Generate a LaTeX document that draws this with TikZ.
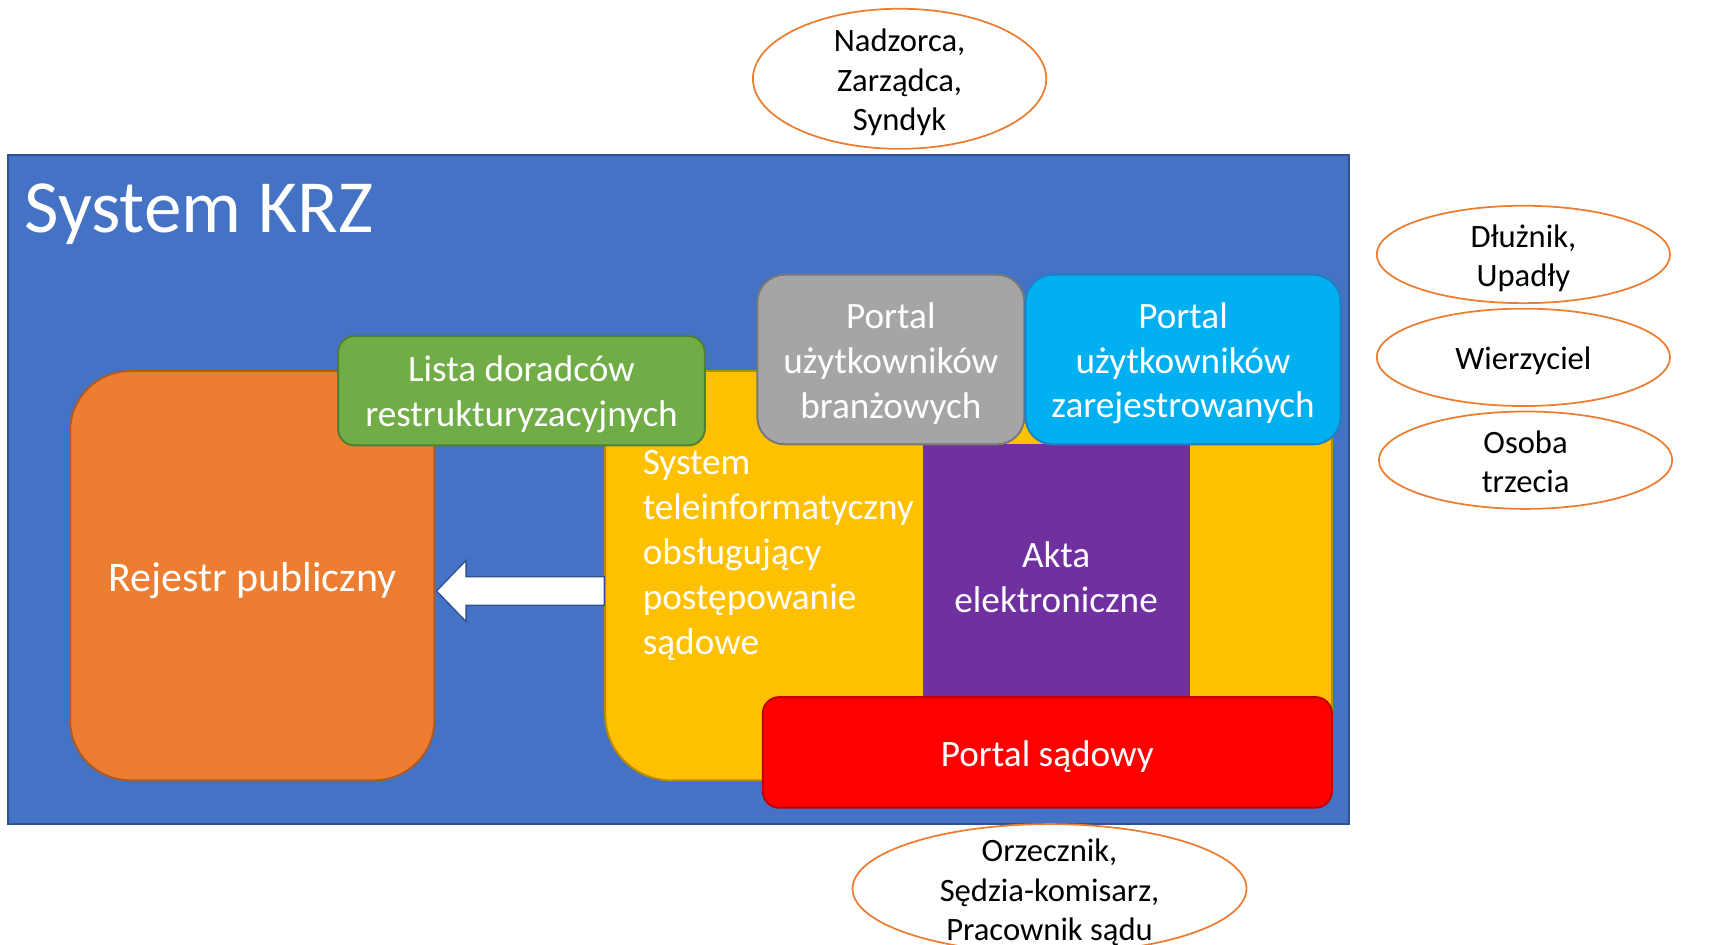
\documentclass[tikz,border=0pt]{standalone}
\usepackage{fontspec}
\setmainfont{Carlito}
\usetikzlibrary{shapes.geometric,calc}
\definecolor{kblue}{HTML}{4472C4}
\definecolor{kblueb}{HTML}{2F528F}
\definecolor{korange}{HTML}{ED7D31}
\definecolor{korangeb}{HTML}{AE5A21}
\definecolor{kgreen}{HTML}{70AD47}
\definecolor{kgreenb}{HTML}{507E32}
\definecolor{kyellow}{HTML}{FFC000}
\definecolor{kyellowb}{HTML}{BC8C00}
\definecolor{kgray}{HTML}{A5A5A5}
\definecolor{kgrayb}{HTML}{787878}
\definecolor{kcyan}{HTML}{00B0F0}
\definecolor{kcyanb}{HTML}{1F7FC0}
\definecolor{kpurple}{HTML}{7030A0}
\definecolor{kred}{HTML}{FF0000}
\definecolor{kredb}{HTML}{C00000}
\begin{document}
\begin{tikzpicture}[x=0.5pt,y=-0.5pt,
  box/.style={draw, line width=0.9pt, inner sep=0pt},
  boxtext/.style={inner sep=0pt, text=white, align=center, yshift=-1.75pt,
    font=\fontsize{17}{20.5}\selectfont},
  actor/.style={ellipse, draw=korange, line width=0.8pt, inner sep=0pt},
  actortext/.style={inner sep=0pt, align=center, yshift=-1.75pt,
    font=\fontsize{14.9}{18}\selectfont, text=black},
  arrowbox/.style={fill=white, draw=kblueb, line width=0.6pt, line join=miter}]
\useasboundingbox (0,0) rectangle (1568,863);
\clip (0,0) rectangle (1568,863);
% main system frame
\node[draw=kblueb, fill=kblue, line width=0.9pt, minimum width=613pt, minimum height=305.5pt, inner sep=0pt] (krz) at (620,447.5) {};
\node[anchor=base west, inner sep=0pt, text=white, font=\fontsize{34.3}{40}\selectfont] (title) at (22,212) {System KRZ};
% boxes
\node[box, draw=korangeb, fill=korange, rounded corners=27.5pt, minimum width=166.5pt, minimum height=187pt] (rej) at (230.5,526) {};
\node[boxtext, font=\fontsize{19.2}{23}\selectfont] (rejtxt) at (230.5,527) {Rejestr publiczny};
\node[box, draw=kyellowb, fill=kyellow, rounded corners=30pt, minimum width=332pt, minimum height=187pt] (sys) at (885,526) {};
\node[boxtext, align=left, anchor=west] (systxt) at (587,504) {System\\teleinformatyczny\\obsługujący\\postępowanie\\sądowe};
\node[box, draw=none, fill=kpurple, minimum width=122pt, minimum height=115.5pt] (akta) at (965,521.5) {};
\node[boxtext] (aktatxt) at (965,524) {Akta\\elektroniczne};
\node[box, draw=kgreenb, fill=kgreen, rounded corners=7.5pt, minimum width=167.5pt, minimum height=50pt] (lista) at (476.5,357) {};
\node[boxtext] (listatxt) at (lista.center) {Lista doradców\\restrukturyzacyjnych};
\node[box, draw=kgrayb, fill=kgray, rounded corners=12.5pt, minimum width=122pt, minimum height=77.5pt] (branz) at (814,328.5) {};
\node[boxtext] (branztxt) at (branz.center) {Portal\\użytkowników\\branżowych};
\node[box, draw=kcyanb, fill=kcyan, rounded corners=12.5pt, minimum width=144pt, minimum height=77.5pt] (zarej) at (1081,328.5) {};
\node[boxtext] (zarejtxt) at (zarej.center) {Portal\\użytkowników\\zarejestrowanych};
\node[box, draw=kredb, fill=kred, rounded corners=7.5pt, minimum width=260pt, minimum height=50.5pt] (sad) at (957,687.5) {};
\node[boxtext] (sadtxt) at (sad.center) {Portal sądowy};
% block arrow from system to register
\coordinate (atip) at ($(rej.east |- 0,540)+(1,0)$);
\coordinate (atail) at (sys.west |- 0,540);
\draw[arrowbox] (atip) -- ($(atip)+(27,-28)$) -- ($(atip)+(27,-13)$) -- ($(atail)+(0,-13)$)
  -- ($(atail)+(0,13)$) -- ($(atip)+(27,13)$) -- ($(atip)+(27,28)$) -- cycle;
% actors
\node[actor, minimum width=134pt, minimum height=64pt] (nadz) at (822,72) {};
\node[actortext] (nadztxt) at (nadz.center) {Nadzorca,\\Zarządca,\\Syndyk};
\node[actor, minimum width=134pt, minimum height=44.5pt] (dluz) at (1392,232.5) {};
\node[actortext] (dluztxt) at (dluz.center) {Dłużnik,\\Upadły};
\node[actor, minimum width=134pt, minimum height=44.5pt] (wierz) at (1392,326.5) {};
\node[actortext] (wierztxt) at (wierz.center) {Wierzyciel};
\node[actor, minimum width=134pt, minimum height=44.5pt] (osoba) at (1394,420.5) {};
\node[actortext] (osobatxt) at ($(osoba.center)+(0,-2)$) {Osoba\\trzecia};
\node[actor, minimum width=180pt, minimum height=59pt] (orz) at (959,812) {};
\node[actortext] (orztxt) at (orz.center) {Orzecznik,\\Sędzia-komisarz,\\Pracownik sądu};
\end{tikzpicture}
\end{document}
